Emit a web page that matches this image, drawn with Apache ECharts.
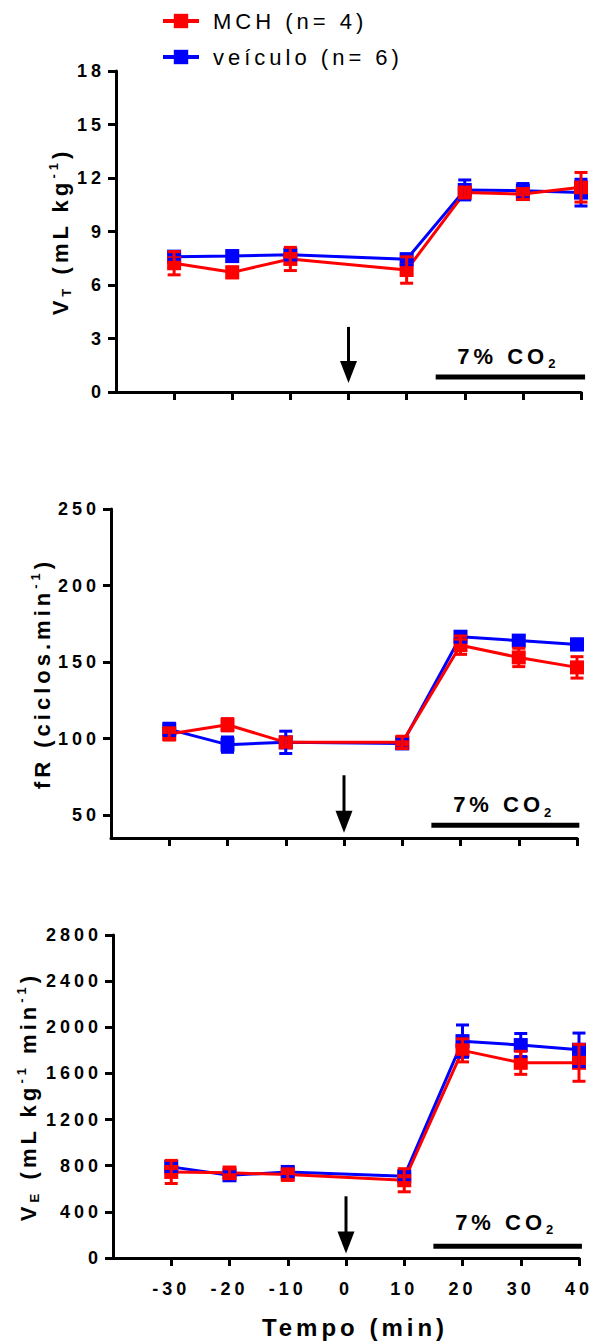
<!DOCTYPE html>
<html>
<head>
<meta charset="utf-8">
<script src="https://cdn.jsdelivr.net/npm/echarts@6/dist/echarts.min.js"></script>
<style>
html,body{margin:0;padding:0;background:#fff;}
#main{width:592px;height:1344px;}
#main text{letter-spacing:4px;}
</style>
</head>
<body>
<div id="main"></div>
<script>
// make text measurement agree with the CSS letter-spacing used on the SVG text
(function () {
  const P = CanvasRenderingContext2D.prototype;
  const orig = P.measureText;
  P.measureText = function (t) {
    try { this.letterSpacing = '4px'; } catch (e) {}
    return orig.call(this, t);
  };
})();

// ---- data ----
const times = [-30, -20, -10, 10, 20, 30, 40];
const xTickValues = [-30, -20, -10, 0, 10, 20, 30, 40];
const seriesNames = ['MCH (n= 4)', 'veículo (n= 6)'];

const vtMCH    = [7.22, 6.71, 7.46, 6.84, 11.18, 11.10, 11.48];
const vtMCHErr = [0.65, 0.30, 0.65, 0.74, 0.30, 0.30, 0.83];
const vtVeh    = [7.59, 7.62, 7.70, 7.44, 11.33, 11.29, 11.18];
const vtVehErr = [0.15, 0.30, 0.30, 0.30, 0.56, 0.40, 0.75];

const frMCH    = [103, 109, 97.5, 97.5, 161, 153, 146.5];
const frMCHErr = [4, 4, 3, 4, 6, 6, 7];
const frVeh    = [106, 96, 97.5, 96.8, 166.5, 164, 161.5];
const frVehErr = [4, 5, 7.3, 3, 3.5, 3, 3.5];

const veMCH    = [746, 738, 723, 674, 1800, 1692, 1692];
const veMCHErr = [100, 50, 50, 100, 100, 100, 160];
const veVeh    = [790, 717, 746, 709, 1880, 1846, 1805];
const veVehErr = [40, 30, 40, 30, 140, 100, 145];

const vtTicks = [0, 3, 6, 9, 12, 15, 18];
const frTicks = [50, 100, 150, 200, 250];
const veTicks = [0, 400, 800, 1200, 1600, 2000, 2400, 2800];

// annotation values (data space): arrows [x, top, tip]; CO2 bar [from, to, barY, textX, textY]
const arrowVT = [0, 3.65, 0.5];
const arrowFR = [0, 76, 38.5];
const arrowVE = [0, 535, 38];
const co2VT = [15, 40.7, 0.84, 27.5, 2.0];
const co2FR = [15, 40.4, 43.3, 27.5, 56.7];
const co2VE = [15, 40.5, 101, 27.5, 312];

// ---- styles ----
const FONT = 'Liberation Sans, Arial, sans-serif';
const RED = '#ff0000', BLUE = '#0000ff';

const nameRich = {
  v: {fontSize: 22, fontWeight: 'bold', fontFamily: FONT, color: '#000', lineHeight: 30, verticalAlign: 'middle'},
  s: {fontSize: 13, fontWeight: 'bold', fontFamily: FONT, color: '#000', lineHeight: 13, verticalAlign: 'bottom'},
  p: {fontSize: 13, fontWeight: 'bold', fontFamily: FONT, color: '#000', lineHeight: 13, verticalAlign: 'top'}
};

function xAxisCfg(gi, showLabels) {
  const ax = {
    type: 'value', gridIndex: gi, min: -40, max: 40, interval: 10,
    axisLine: {show: true, onZero: false, lineStyle: {color: '#000', width: 3}},
    axisTick: {show: true, customValues: xTickValues, length: 8, lineStyle: {color: '#000', width: 3}},
    axisLabel: {show: showLabels, customValues: xTickValues, margin: 20, fontSize: 18, fontWeight: 'bold',
      fontFamily: FONT, color: '#000', formatter: v => String(v)},
    splitLine: {show: false}
  };
  if (showLabels) {
    ax.name = 'Tempo (min)';
    ax.nameLocation = 'middle';
    ax.nameGap = 55;
    ax.nameTextStyle = {fontSize: 24, fontWeight: 'bold', fontFamily: FONT, color: '#000', padding: [0, 0, 0, 18]};
  }
  return ax;
}

function yAxisCfg(gi, min, max, ticks, name, gap) {
  return {
    type: 'value', gridIndex: gi, min: min, max: max,
    axisLine: {show: true, onZero: false, lineStyle: {color: '#000', width: 3}},
    axisTick: {show: true, customValues: ticks, length: 8, lineStyle: {color: '#000', width: 3}},
    axisLabel: {customValues: ticks, margin: 11, fontSize: 18, fontWeight: 'bold', fontFamily: FONT,
      color: '#000', formatter: v => String(v)},
    splitLine: {show: false},
    name: name, nameLocation: 'middle', nameRotate: 90, nameGap: gap, nameMoveOverlap: false,
    nameTextStyle: {rich: nameRich}
  };
}

function lineSeries(name, gi, vals, color) {
  return {
    type: 'line', name: name, xAxisIndex: gi, yAxisIndex: gi,
    data: times.map((t, i) => [t, vals[i]]),
    symbol: 'rect', symbolSize: 14,
    lineStyle: {color: color, width: 3},
    itemStyle: {color: color},
    z: 2, silent: true
  };
}

function errSeries(gi, vals, errs, color) {
  return {
    type: 'custom', xAxisIndex: gi, yAxisIndex: gi, z: 4, silent: true,
    data: times.map((t, i) => [t, vals[i], errs[i]]),
    renderItem: function (params, api) {
      const x = api.value(0), m = api.value(1), e = api.value(2);
      const top = api.coord([x, m + e]), bot = api.coord([x, m - e]);
      const hw = 6.5;
      const st = {stroke: color, lineWidth: 3};
      return {type: 'group', children: [
        {type: 'line', shape: {x1: top[0], y1: top[1], x2: bot[0], y2: bot[1]}, style: st},
        {type: 'line', shape: {x1: top[0] - hw, y1: top[1], x2: top[0] + hw, y2: top[1]}, style: st},
        {type: 'line', shape: {x1: bot[0] - hw, y1: bot[1], x2: bot[0] + hw, y2: bot[1]}, style: st}
      ]};
    }
  };
}

function annotSeries(gi, arrow, co2) {
  return {
    type: 'custom', xAxisIndex: gi, yAxisIndex: gi, z: 5, silent: true,
    data: [arrow.concat(co2)],
    renderItem: function (params, api) {
      const a0 = api.coord([api.value(0), api.value(1)]);
      const a1 = api.coord([api.value(0), api.value(2)]);
      const b0 = api.coord([api.value(3), api.value(5)]);
      const b1 = api.coord([api.value(4), api.value(5)]);
      const t = api.coord([api.value(6), api.value(7)]);
      const hh = 22, hw = 8.5;
      return {type: 'group', children: [
        {type: 'line', shape: {x1: a0[0], y1: a0[1], x2: a1[0], y2: a1[1] - hh + 2}, style: {stroke: '#000', lineWidth: 3}},
        {type: 'polygon', shape: {points: [[a1[0] - hw, a1[1] - hh], [a1[0] + hw, a1[1] - hh], [a1[0], a1[1]]]}, style: {fill: '#000'}},
        {type: 'line', shape: {x1: b0[0], y1: b0[1], x2: b1[0], y2: b1[1]}, style: {stroke: '#000', lineWidth: 5}},
        {type: 'text', x: t[0], y: t[1], style: {
          text: '{a|7% CO}{b|2}', align: 'center', verticalAlign: 'middle',
          rich: {
            a: {fontSize: 22, fontWeight: 'bold', fontFamily: FONT, fill: '#000', lineHeight: 32, verticalAlign: 'middle'},
            b: {fontSize: 13, fontWeight: 'bold', fontFamily: FONT, fill: '#000', lineHeight: 13, verticalAlign: 'bottom'}
          }
        }}
      ]};
    }
  };
}

const option = {
  animation: false,
  backgroundColor: '#fff',
  legend: {
    data: seriesNames, orient: 'vertical', left: 156, top: 3,
    itemWidth: 36, itemHeight: 18, itemGap: 10,
    lineStyle: {width: 4},
    textStyle: {fontSize: 22, fontFamily: FONT, color: '#000', padding: [0, 0, 0, 9]},
    selectedMode: false
  },
  grid: [
    {left: 116, right: 11, top: 71, bottom: 952, outerBoundsMode: 'none'},
    {left: 111, right: 15, top: 509, bottom: 506, outerBoundsMode: 'none'},
    {left: 113, right: 13, top: 935, bottom: 86, outerBoundsMode: 'none'}
  ],
  xAxis: [xAxisCfg(0, false), xAxisCfg(1, false), xAxisCfg(2, true)],
  yAxis: [
    yAxisCfg(0, 0, 18, vtTicks, '{v|V}{s|T}{v| (mL kg}{p|-1}{v|)}', 41),
    yAxisCfg(1, 35, 250, frTicks, '{v|fR (ciclos.min}{p|-1}{v|)}', 54),
    yAxisCfg(2, 0, 2800, veTicks, '{v|V}{s|E}{v| (mL kg}{p|-1}{v| min}{p|-1}{v|)}', 70)
  ],
  series: [
    lineSeries(seriesNames[1], 0, vtVeh, BLUE),
    lineSeries(seriesNames[0], 0, vtMCH, RED),
    errSeries(0, vtVeh, vtVehErr, BLUE),
    errSeries(0, vtMCH, vtMCHErr, RED),
    annotSeries(0, arrowVT, co2VT),

    lineSeries(seriesNames[1], 1, frVeh, BLUE),
    lineSeries(seriesNames[0], 1, frMCH, RED),
    errSeries(1, frVeh, frVehErr, BLUE),
    errSeries(1, frMCH, frMCHErr, RED),
    annotSeries(1, arrowFR, co2FR),

    lineSeries(seriesNames[1], 2, veVeh, BLUE),
    lineSeries(seriesNames[0], 2, veMCH, RED),
    errSeries(2, veVeh, veVehErr, BLUE),
    errSeries(2, veMCH, veMCHErr, RED),
    annotSeries(2, arrowVE, co2VE)
  ]
};

const chart = echarts.init(document.getElementById('main'), null, {renderer: 'svg'});
chart.setOption(option);
</script>
</body>
</html>
